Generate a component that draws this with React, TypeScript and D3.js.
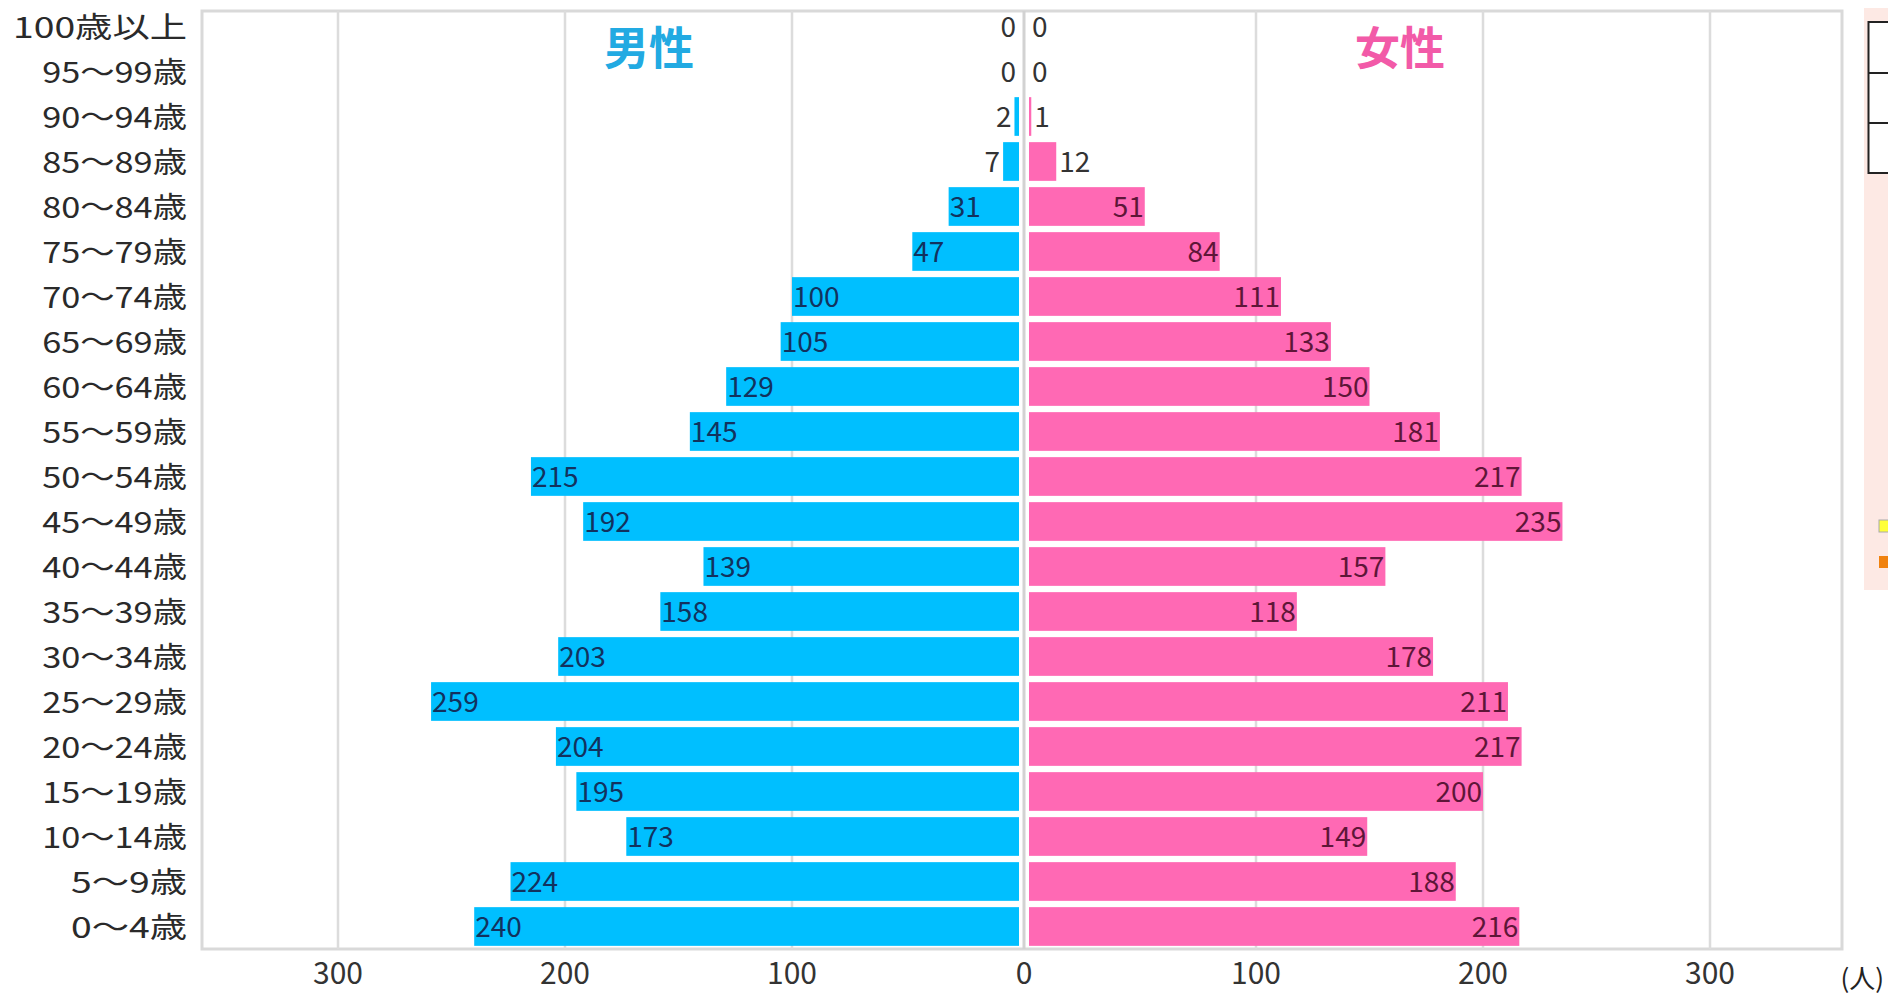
import * as d3 from "d3";

// 年齢階級（上から下へ）
const ageGroups = [
  "100歳以上", "95～99歳", "90～94歳", "85～89歳", "80～84歳", "75～79歳",
  "70～74歳", "65～69歳", "60～64歳", "55～59歳", "50～54歳", "45～49歳",
  "40～44歳", "35～39歳", "30～34歳", "25～29歳", "20～24歳", "15～19歳",
  "10～14歳", "5～9歳", "0～4歳",
];
const maleCounts = [0, 0, 2, 7, 31, 47, 100, 105, 129, 145, 215, 192, 139, 158, 203, 259, 204, 195, 173, 224, 240];
const femaleCounts = [0, 0, 1, 12, 51, 84, 111, 133, 150, 181, 217, 235, 157, 118, 178, 211, 217, 200, 149, 188, 216];
const gridTicks = [100, 200, 300];

const W = 1888;
const H = 995;
const frame = { left: 202, top: 11, right: 1842, bottom: 949 };
const centerGap = 10;
const centerX = 1024;

const MALE = "#00bfff";
const FEMALE = "#ff69b4";
const FONT = "'Noto Sans CJK JP', 'Noto Sans', sans-serif";

// rough label width: half-width digits vs. full-width glyphs
function labelWidth(s: string): number {
  let w = 0;
  for (const ch of s) w += /[0-9]/.test(ch) ? 14.4 : 43.6;
  return w;
}
const digitWidth = (n: number) => String(n).length * 15;

export default function App() {
  const xMale = d3.scaleLinear().domain([0, 300]).range([centerX - centerGap / 2, 338]);
  const xFemale = d3.scaleLinear().domain([0, 300]).range([centerX + centerGap / 2, 1710]);
  const y = d3.scaleBand<string>()
    .domain(ageGroups)
    .range([4, 949])
    .paddingInner(0.14)
    .paddingOuter(0.07);
  const bh = y.bandwidth();

  return (
    <div style={{ position: "absolute", left: 0, top: 0 }}>
      <svg width={W} height={H} style={{ display: "block", fontFamily: FONT }}>
        <rect width={W} height={H} fill="#fff" />

        {/* plot frame */}
        <rect
          x={frame.left}
          y={frame.top}
          width={frame.right - frame.left}
          height={frame.bottom - frame.top}
          fill="#fff"
          stroke="#d9d9d9"
          strokeWidth={3}
        />

        {/* grid lines */}
        {gridTicks.map((t) => (
          <g key={t}>
            <line x1={xMale(t)} x2={xMale(t)} y1={frame.top} y2={frame.bottom} stroke="#dcdcdc" strokeWidth={2.5} />
            <line x1={xFemale(t)} x2={xFemale(t)} y1={frame.top} y2={frame.bottom} stroke="#dcdcdc" strokeWidth={2.5} />
          </g>
        ))}
        <line x1={centerX} x2={centerX} y1={frame.top} y2={frame.bottom} stroke="#d2d2d2" strokeWidth={3} />

        {/* titles */}
        <text x={649} y={45} textAnchor="middle" dominantBaseline="central" fontSize={45} fontWeight="bold" fill="#22aae2">男性</text>
        <text x={1400} y={45} textAnchor="middle" dominantBaseline="central" fontSize={45} fontWeight="bold" fill="#f25aa8">女性</text>

        {/* bars */}
        {ageGroups.map((age, i) => {
          const yy = y(age)!;
          const cy = yy + bh / 2 - 1.5;
          const m = maleCounts[i];
          const f = femaleCounts[i];
          const mx = xMale(m);
          const fx = xFemale(f);
          const mw = xMale(0) - mx;
          const fw = fx - xFemale(0);
          const mIn = mw >= digitWidth(m) + 4;
          const fIn = fw >= digitWidth(f) + 4;
          return (
            <g key={age}>
              {m > 0 && <rect x={mx} y={yy} width={mw} height={bh} fill={MALE} />}
              {f > 0 && <rect x={xFemale(0)} y={yy} width={fw} height={bh} fill={FEMALE} />}
              <text
                x={mIn ? mx + 1 : mx - 3}
                y={cy}
                textAnchor={mIn ? "start" : "end"}
                dominantBaseline="central"
                fontSize={28}
                fill={mIn ? "#12325e" : "#333"}
              >
                {m}
              </text>
              <text
                x={fIn ? fx - 1 : fx + 3}
                y={cy}
                textAnchor={fIn ? "end" : "start"}
                dominantBaseline="central"
                fontSize={28}
                fill={fIn ? "#5e1638" : "#333"}
              >
                {f}
              </text>
              <text
                x={187}
                y={cy}
                textAnchor="end"
                dominantBaseline="central"
                fontSize={29}
                fill="#2a2a2a"
                textLength={labelWidth(age)}
                lengthAdjust="spacingAndGlyphs"
              >
                {age}
              </text>
            </g>
          );
        })}

        {/* x axis labels */}
        {gridTicks.map((t) => (
          <g key={"ax" + t}>
            <text x={xMale(t)} y={971} textAnchor="middle" dominantBaseline="central" fontSize={30} fill="#333">{t}</text>
            <text x={xFemale(t)} y={971} textAnchor="middle" dominantBaseline="central" fontSize={30} fill="#333">{t}</text>
          </g>
        ))}
        <text x={centerX} y={971} textAnchor="middle" dominantBaseline="central" fontSize={30} fill="#333">0</text>
        <text x={1884} y={976} textAnchor="end" dominantBaseline="central" fontSize={26} fill="#222">(人)</text>

        {/* legend panel, cut off at the right edge */}
        <rect x={1864} y={8} width={40} height={582} fill="#fde9e4" />
        <rect x={1868.5} y={22} width={40} height={151} fill="#fff" stroke="#222" strokeWidth={2} />
        <line x1={1868.5} x2={W} y1={73} y2={73} stroke="#222" strokeWidth={2} />
        <line x1={1868.5} x2={W} y1={123} y2={123} stroke="#222" strokeWidth={2} />
        <rect x={1879} y={520} width={12} height={12} fill="#ffff3a" stroke="#aaa" strokeWidth={1} />
        <rect x={1879} y={556} width={12} height={12} fill="#f0820f" />
      </svg>
    </div>
  );
}
